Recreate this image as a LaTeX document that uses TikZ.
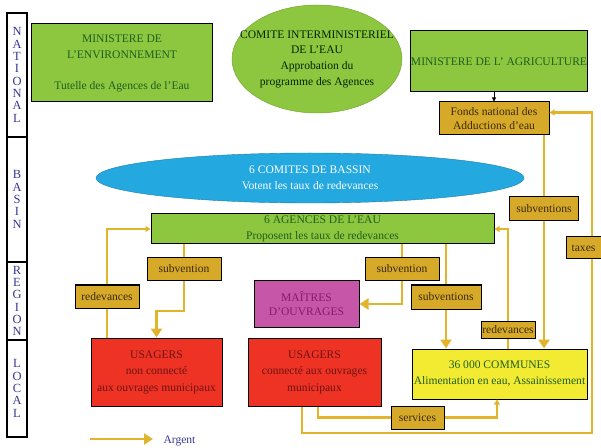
\documentclass[tikz,border=0pt]{standalone}
\usepackage{fontspec}
\setmainfont{Liberation Serif}
\usetikzlibrary{arrows.meta,shapes.geometric}

\definecolor{minigreen}{RGB}{141,198,63}
\definecolor{textgreen}{RGB}{30,95,30}
\definecolor{goldbox}{RGB}{214,170,40}
\definecolor{goldline}{RGB}{226,180,44}
\definecolor{basinblue}{RGB}{36,168,224}
\definecolor{ownerpink}{RGB}{197,86,168}
\definecolor{ownertext}{RGB}{140,25,105}
\definecolor{userred}{RGB}{238,50,36}
\definecolor{usertext}{RGB}{110,20,20}
\definecolor{communeyel}{RGB}{242,235,50}
\definecolor{sidetext}{RGB}{55,55,150}
\definecolor{labeltext}{RGB}{60,40,15}

\begin{document}
\begin{tikzpicture}[
  x=1bp, y=-1bp, font=\fontsize{11.6}{16}\selectfont,
  box/.style={draw, line width=1bp, inner sep=0pt, align=center},
  mini/.style={box, fill=minigreen, text=textgreen},
  fund/.style={box, fill=goldbox, text=labeltext, font=\fontsize{11.6}{14}\selectfont},
  owner/.style={box, fill=ownerpink, text=ownertext, font=\fontsize{11.6}{14}\selectfont},
  user/.style={box, fill=userred, text=usertext, minimum height=68bp,
               font=\fontsize{11.6}{16.5}\selectfont},
  commune/.style={box, fill=communeyel, text=textgreen},
  lbl/.style={box, fill=goldbox, text=labeltext, minimum height=22bp},
  band/.style={draw, line width=1.2bp, minimum width=20bp, inner sep=0pt,
               align=center, text=sidetext, font=\fontsize{12.5}{12.4}\selectfont},
  cie/.style={ellipse, fill=minigreen, draw=minigreen!85!black, line width=0.5bp,
              minimum width=170bp, minimum height=108bp, inner xsep=-20bp,
              inner ysep=0pt, align=center, text=black!85!green,
              font=\fontsize{11.6}{15.7}\selectfont},
  basin/.style={ellipse, fill=basinblue, draw=basinblue!75!black, line width=0.4bp,
                minimum width=428bp, minimum height=50bp, inner sep=0pt,
                align=center, text=white},
  money/.style={draw=goldline, line width=2.4bp},
  big/.style={money, -{Triangle[length=9bp,width=11bp]}},
  small/.style={money, -{Triangle[length=5bp,width=6bp]}},
]
  \useasboundingbox (0,0) rectangle (601,448);

  % levels
  \node[band, minimum height=124bp] (nat) at (17,75)    {N\\A\\T\\I\\O\\N\\A\\L};
  \node[band, minimum height=125bp] (bas) at (17,199.5) {B\\A\\S\\I\\N};
  \node[band, minimum height=78bp]  (reg) at (17,301)   {R\\E\\G\\I\\O\\N};
  \node[band, minimum height=97bp]  (loc) at (17,388.5) {L\\O\\C\\A\\L};

  % national
  \node[mini, minimum width=180bp, minimum height=78bp] (env) at (122,63)
       {MINISTERE DE\\L'ENVIRONNEMENT\\[15bp]Tutelle des Agences de l'Eau};
  \node[cie] (comite) at (317,59)
       {COMITE INTERMINISTERIEL\\DE L'EAU\\Approbation du\\programme des Agences};
  \node[mini, minimum width=176bp, minimum height=61bp] (agri) at (499,61.5)
       {MINISTERE DE L' AGRICULTURE};
  \node[fund, minimum width=110bp, minimum height=33bp] (fonds) at (494,118.5)
       {Fonds national des\\Adductions d'eau};

  % basin
  \node[basin] (comites) at (310,178) {6 COMITES DE BASSIN\\Votent les taux de redevances};
  \node[mini, minimum width=343bp, minimum height=30bp] (agences) at (322.5,229)
       {6 AGENCES DE L'EAU\\Proposent les taux de redevances};

  % region / local
  \node[owner, minimum width=105bp, minimum height=46bp] (maitres) at (306.5,304)
       {MAÎTRES\\D'OUVRAGES};
  \node[user, minimum width=131bp] (usernc) at (156.5,372)
       {USAGERS\\non connecté\\aux ouvrages municipaux};
  \node[user, minimum width=133bp] (userc) at (314.5,372)
       {USAGERS\\connecté aux ouvrages\\municipaux};
  \node[commune, minimum width=175bp, minimum height=50bp] (communes) at (499.5,374)
       {36 000 COMMUNES\\Alimentation en eau, Assainissement};

  % flow labels
  \node[lbl, minimum width=74bp] (sub1)  at (184,269)   {subvention};
  \node[lbl, minimum width=64bp, minimum height=23bp] (red1) at (107,296.5) {redevances};
  \node[lbl, minimum width=74bp] (sub2)  at (402,269)   {subvention};
  \node[lbl, minimum width=70bp, minimum height=24bp] (subs1) at (446,297) {subventions};
  \node[lbl, minimum width=69bp, minimum height=24bp] (subs2) at (544,208.5) {subventions};
  \node[lbl, minimum width=35bp] (taxes) at (583.5,248) {taxes};
  \node[lbl, minimum width=54bp, minimum height=17bp] (red2) at (508,329.5) {redevances};
  \node[lbl, minimum width=53bp, minimum height=23bp] (serv) at (417.5,417.5) {services};

  \coordinate (taxcorner) at (592,433);
  \coordinate (lega) at (90,439);
  \coordinate (legb) at (153,439);

  % money flows
  \draw[-{Triangle[length=4bp,width=4bp]}, line width=0.6bp] (agri.south -| fonds.north) -- (fonds.north);
  \draw[money] (agences.south -| sub1) -- (sub1);
  \draw[big] (sub1.south) -- (sub1.south |- 0,311) -| (usernc.north);
  \draw[money] (usernc.north -| red1) -- (red1);
  \draw[small] (red1.north) |- (agences.west);
  \draw[money] (agences.south -| sub2) -- (sub2);
  \draw[big] (sub2.south) |- (maitres.east);
  \draw[money] (agences.south -| subs1) -- (subs1);
  \draw[big] (subs1.south) -- (subs1 |- communes.north);
  \draw[money] (communes.north -| red2) -- (red2);
  \draw[small] (red2.north) |- (agences.east);
  \draw[money] (fonds.south -| subs2) -- (subs2);
  \draw[big] (subs2.south) -- (subs2 |- communes.north);
  \draw[money] ([xshift=-12.5bp]userc.south) |- (taxcorner) -- (taxcorner |- taxes.south);
  \draw[small] (taxcorner |- taxes.north) |- ([yshift=6bp]fonds.east);
  \draw[money] ([xshift=3.5bp]userc.south) |- (serv.west);
  \draw[small] (serv.east) -| ([xshift=-2.5bp]communes.south);

  % legend
  \draw[big] (lega) -- (legb);
  \node[anchor=west, text=sidetext] (argent) at (160,441) {Argent};
\end{tikzpicture}
\end{document}
